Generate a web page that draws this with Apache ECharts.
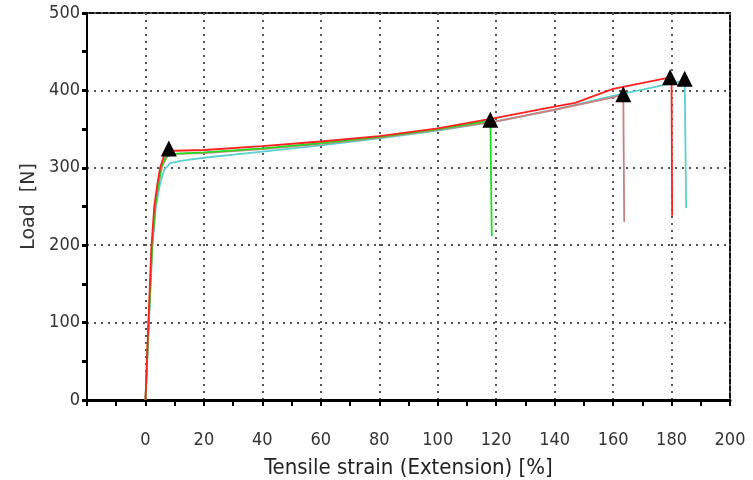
<!DOCTYPE html>
<html>
<head>
<meta charset="utf-8">
<script src="https://cdn.jsdelivr.net/npm/echarts@6/dist/echarts.min.js"></script>
<style>
  html, body { margin: 0; padding: 0; background: #fff; }
  #chart { width: 753px; height: 480px; }
</style>
</head>
<body>
<div id="chart"></div>
<script>
// 各试样的应变 / 载荷曲线
var redStrain = [0, 1, 2, 3, 4, 5, 6.5, 8, 10, 20, 40, 60, 80, 100, 119, 140, 147, 160, 180, 180.2];
var redLoad = [0, 100, 195, 250, 277, 300, 317, 322, 322, 323, 328, 334, 341, 351, 364, 379, 384, 402, 417, 238];

var greenStrain = [0, 1.1, 2.3, 3.3, 4.5, 5.5, 7, 9, 20, 40, 60, 80, 100, 118, 118.5];
var greenLoad = [0, 100, 200, 250, 280, 302, 314, 318, 320, 325, 332, 340, 350, 361, 212];

var brownStrain = [0, 1.1, 2.3, 3.5, 4.6, 5.8, 7.5, 10, 20, 40, 60, 80, 100, 120, 140, 160, 163.5, 163.8];
var brownLoad = [0, 100, 200, 255, 283, 303, 315, 318, 319, 324, 331, 339, 349, 360, 375, 391, 395, 230];

var cyanStrain = [0, 1.2, 2.4, 3.6, 5, 6.5, 8.5, 12, 20, 40, 60, 80, 100, 120, 140, 160, 180, 184.5, 185];
var cyanLoad = [0, 100, 200, 250, 280, 298, 306, 309, 313, 321, 329, 338, 348, 360, 375, 393, 409, 413, 248];

// 屈服点和断裂点 (三角形标记)
var markStrain = [8, 118, 163.5, 179.5, 184.5];
var markLoad = [325, 362, 395, 417, 415];

function pairs(xs, ys) {
  return xs.map(function (x, i) { return [x, ys[i]]; });
}

function curve(name, color, xs, ys) {
  return {
    name: name,
    type: "line",
    data: pairs(xs, ys),
    showSymbol: false,
    symbol: "none",
    lineStyle: { color: color, width: 1.8 },
    z: 3,
  };
}

var chart = echarts.init(document.getElementById("chart"));
var labelFont = "'DejaVu Sans Condensed', sans-serif";
var gridLine = { show: true, lineStyle: { color: "#555", type: [2, 5], width: 2 } };

var option = {
  animation: false,
  grid: {
    left: 87, right: 23, top: 13, bottom: 80,
    outerBoundsMode: "none",
    show: true, borderColor: "#111", borderWidth: 2,
  },
  xAxis: {
    type: "value",
    min: -20,
    max: 200,
    interval: 20,
    name: "Tensile strain (Extension) [%]",
    nameLocation: "middle",
    nameGap: 57,
    nameTextStyle: { fontFamily: labelFont, fontSize: 22, color: "#222" },
    axisLine: { onZero: false, lineStyle: { color: "#000", width: 3 } },
    axisTick: { length: 6, lineStyle: { color: "#000", width: 2 } },
    minorTick: { show: true, splitNumber: 2, length: 6, lineStyle: { color: "#000", width: 2 } },
    axisLabel: {
      margin: 31,
      fontFamily: labelFont,
      fontSize: 18,
      color: "#333",
      formatter: function (v) { return v < 0 ? "" : v; },
    },
    splitLine: gridLine,
  },
  yAxis: {
    type: "value",
    min: 0,
    max: 500,
    interval: 100,
    name: "Load  [N]",
    nameLocation: "middle",
    nameGap: 38,
    nameTextStyle: { fontFamily: "'DejaVu Sans', sans-serif", fontSize: 19, color: "#333" },
    axisLine: { onZero: false, lineStyle: { color: "#000", width: 2 } },
    axisTick: { length: 5, lineStyle: { color: "#000", width: 3 } },
    minorTick: { show: true, splitNumber: 2, length: 5, lineStyle: { color: "#000", width: 3 } },
    axisLabel: { margin: 7, fontFamily: labelFont, fontSize: 18, color: "#333" },
    splitLine: gridLine,
  },
  series: [
    curve("cyan", "#5ccfcf", cyanStrain, cyanLoad),
    curve("brown", "#cc7f7f", brownStrain, brownLoad),
    curve("green", "#22dd22", greenStrain, greenLoad),
    curve("red", "#ff2020", redStrain, redLoad),
    {
      name: "marks",
      type: "scatter",
      data: pairs(markStrain, markLoad),
      symbol: "triangle",
      symbolSize: [16, 16],
      itemStyle: { color: "#000", opacity: 1 },
      z: 5,
    },
  ],
};

chart.setOption(option);
</script>
</body>
</html>
